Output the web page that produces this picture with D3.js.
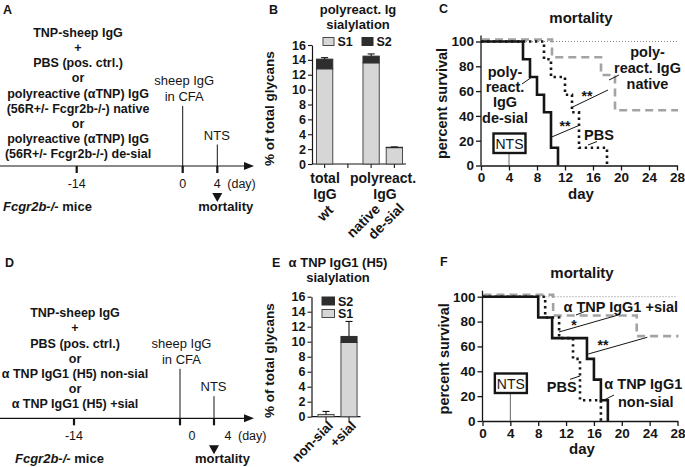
<!DOCTYPE html>
<html><head><meta charset="utf-8">
<script src="https://cdn.jsdelivr.net/npm/d3@7"></script>
<style>
body{margin:0;background:#fff}
svg{display:block;font-family:"Liberation Sans",Arial,Helvetica,sans-serif}
</style></head><body>
<script>
// ---------------- data ----------------
const aProtocol = ["TNP-sheep IgG","+","PBS (pos. ctrl.)","or","polyreactive (αTNP) IgG","(56R+/- Fcgr2b-/-) native","or","polyreactive (αTNP) IgG","(56R+/- Fcgr2b-/-) de-sial"];
const dProtocol = ["TNP-sheep IgG","+","PBS (pos. ctrl.)","or","α TNP IgG1 (H5) non-sial","or","α TNP IgG1 (H5) +sial"];
const timelineDays = [-14, 0, 4];
const timelineLabels = ["-14","0","4"];
const eventInjection = ["sheep IgG","in CFA"];
const eventNTS = "NTS";

const bCategories = ["wt","native","de-sial"];
const bS1 = [12.8, 13.6, 2.2];
const bS2 = [1.3, 0.9, 0.05];
const bErr = [0.2, 0.3, 0.05];
const glycanTicks = [0,2,4,6,8,10,12,14,16];

const eCategories = ["non-sial","+sial"];
const eS1 = [0.3, 9.9];
const eS2 = [0, 0.8];
const eErr = [0.4, 2.0];

const survTicksY = [0,20,40,60,80,100];
const survTicksX = [0,4,8,12,16,20,24,28];
// [day, percent survival]
const cDesial = [[0,100],[6,85.7],[7,71.4],[8,57.1],[9,42.9],[10,14.3],[11,0]];
const cPBS    = [[0,100],[9,85.7],[10,71.4],[12,57.1],[13,42.9],[14,14.3],[18,0]];
const cNative = [[0,100],[10,85.7],[17,71.4],[19,42.9],[28,42.9]];
const fNonsial = [[0,100],[8,83.3],[10,66.7],[15,50],[16,33.3],[17,16.7],[18,0]];
const fPBS     = [[0,100],[9,83.3],[11,66.7],[13,50],[14,16.7],[17,0]];
const fSial    = [[0,100],[10,83.3],[22,66.7],[28,66.7]];

// ---------------- helpers ----------------
const svg = d3.select("body").append("svg").attr("width",685).attr("height",467);
const INK = "#151515";
function T(g,x,y,s,o={}){
  return g.append("text").attr("x",x).attr("y",y).text(s)
    .attr("font-size",o.size||13).attr("font-weight",o.weight||"bold")
    .attr("text-anchor",o.anchor||"middle").attr("fill",o.fill||INK)
    .attr("font-style",o.style||"normal");
}
function L(g,x1,y1,x2,y2,w=1,c=INK){
  return g.append("line").attr("x1",x1).attr("y1",y1).attr("x2",x2).attr("y2",y2)
    .attr("stroke",c).attr("stroke-width",w);
}

// ---------------- timeline panels (A, D) ----------------
function timeline(cfg){
  const g = svg.append("g");
  T(g,cfg.letterX,cfg.letterY,cfg.letter,{size:12.5,anchor:"start"});
  cfg.lines.forEach((s,i)=>T(g,cfg.textX,cfg.textY+i*cfg.step,s,{size:12.5}));
  const x = d3.scaleLinear().domain(timelineDays).range(cfg.tickPx);
  const xl = d3.scaleLinear().domain(timelineDays).range(cfg.labelPx);
  L(g,0,cfg.axisY,cfg.arrowX-8,cfg.axisY,1.2);
  g.append("path").attr("d",`M${cfg.arrowX-10},${cfg.axisY-4}L${cfg.arrowX},${cfg.axisY}L${cfg.arrowX-10},${cfg.axisY+4}Z`).attr("fill",INK);
  timelineDays.forEach((d,i)=>{
    L(g,x(d),cfg.axisY,x(d),cfg.axisY+7,2.2);
    T(g,xl(d),cfg.axisY+22,timelineLabels[i],{size:12.5,weight:"normal"});
  });
  T(g,xl(4)+10,cfg.axisY+22,"(day)",{size:12.5,weight:"normal",anchor:"start"});
  // events
  eventInjection.forEach((s,i)=>T(g,x(0)+1.5,cfg.injY+i*16,s,{size:13,weight:"normal"}));
  L(g,x(0),cfg.injY+21,x(0),cfg.axisY,1);
  T(g,x(4)-0.5,cfg.ntsY,eventNTS,{size:13,weight:"normal"});
  L(g,x(4),cfg.ntsY+5,x(4),cfg.axisY,1);
  const ay = cfg.axisY+27;
  g.append("path").attr("d",`M${x(4)-5},${ay}L${x(4)+5},${ay}L${x(4)},${ay+9}Z`).attr("fill",INK);
  T(g,x(4)-19,cfg.axisY+45,"mortality",{size:13,anchor:"start"});
  const m = T(g,cfg.miceX,cfg.axisY+45,"",{size:13,anchor:"start"});
  m.append("tspan").attr("font-style","italic").text("Fcgr2b-/-");
  m.append("tspan").text(" mice");
}
timeline({letter:"A",letterX:3,letterY:13.5,lines:aProtocol,textX:78,textY:36.8,step:15.2,
  axisY:166,arrowX:254,tickPx:[76.7,182.7,217.3],labelPx:[76.7,182.7,217.3],injY:85,ntsY:139.5,miceX:3});
timeline({letter:"D",letterX:5,letterY:266.5,lines:dProtocol,textX:75,textY:317.3,step:15.1,
  axisY:418.3,arrowX:254,tickPx:[74,180,214],labelPx:[74,192,228],injY:347.8,ntsY:391.2,miceX:15});

// ---------------- bar panels (B, E) ----------------
function barPanel(cfg){
  const g = svg.append("g");
  T(g,cfg.letterX,cfg.letterY,cfg.letter,{size:12.5,anchor:"start"});
  cfg.title.forEach((s,i)=>T(g,cfg.titleX,cfg.titleY+i*14.5,s,{size:13}));
  const y = d3.scaleLinear().domain([0,16]).range([cfg.y0,cfg.y1]);
  const x = d3.scaleBand().domain(cfg.slots).range(cfg.xRange).paddingInner(0.3).paddingOuter(0.15);
  const ya = g.append("g").attr("transform",`translate(${cfg.axisX},0)`)
    .call(d3.axisLeft(y).tickValues(glycanTicks).tickSize(4).tickSizeOuter(0).tickPadding(2));
  ya.select(".domain").attr("stroke",INK).attr("stroke-width",1.2);
  ya.selectAll(".tick line").attr("stroke",INK).attr("stroke-width",1.1);
  ya.selectAll(".tick text").attr("font-size",12.5).attr("font-weight","bold").attr("fill",INK).attr("font-family",null);
  L(g,cfg.axisX,cfg.y0,cfg.xRange[1],cfg.y0,1.2);
  cfg.slots.forEach(s=>L(g,x(s)+x.bandwidth()/2,cfg.y0,x(s)+x.bandwidth()/2,cfg.y0+4,1.1));
  g.append("text").attr("transform",`translate(${cfg.yTitleX},${(cfg.y0+cfg.y1)/2+cfg.yTitleDy}) rotate(-90)`)
    .attr("text-anchor","middle").attr("font-size",13.5).attr("font-weight","bold").attr("fill",INK).text("% of total glycans");
  cfg.cats.forEach((c,i)=>{
    const bx = x(c), bw = x.bandwidth(), cx = bx+bw/2;
    const top1 = cfg.s1[i], top2 = cfg.s1[i]+cfg.s2[i];
    g.append("rect").attr("x",bx).attr("width",bw).attr("y",y(top1)).attr("height",y(0)-y(top1))
      .attr("fill","#d6d6d6").attr("stroke","#4a4a4a").attr("stroke-width",1);
    if(cfg.s2[i]>0.02) g.append("rect").attr("x",bx).attr("width",bw).attr("y",y(top2)).attr("height",y(top1)-y(top2))
      .attr("fill","#2e2e2e").attr("stroke","#2e2e2e").attr("stroke-width",1);
    L(g,cx,y(top2),cx,y(top2+cfg.err[i]),1.1);
    L(g,cx-3.5,y(top2+cfg.err[i]),cx+3.5,y(top2+cfg.err[i]),1.1);
  });
  return {x,y,g};
}
const slotsB = [bCategories[0]," ",bCategories[1],bCategories[2]];
const B = barPanel({letter:"B",letterX:269,letterY:13.5,title:["polyreact. Ig","sialylation"],titleX:358,titleY:14,
  y0:164,y1:45,axisX:312,xRange:[313,406],slots:slotsB,cats:bCategories,s1:bS1,s2:bS2,err:bErr,yTitleX:274,yTitleDy:4});
// legend B
B.g.append("rect").attr("x",323).attr("y",37.5).attr("width",11).attr("height",8).attr("fill","#d6d6d6").attr("stroke","#4a4a4a");
T(B.g,337.5,46,"S1",{size:12.5,anchor:"start"});
B.g.append("rect").attr("x",362).attr("y",37.5).attr("width",11).attr("height",8).attr("fill","#2e2e2e").attr("stroke","#2e2e2e");
T(B.g,376.5,46,"S2",{size:12.5,anchor:"start"});
T(B.g,325,183,"total",{size:14});
T(B.g,325,198.5,"IgG",{size:14});
T(B.g,383,183,"polyreact.",{size:14});
T(B.g,385,198.5,"IgG",{size:14});
[["wt",334,211],["native",381,210],["de-sial",405,209]].forEach(([s,px,py])=>{
  B.g.append("text").attr("transform",`translate(${px},${py}) rotate(-45)`).attr("text-anchor","end")
    .attr("font-size",14).attr("font-weight","bold").attr("fill",INK).text(s);
});

const E = barPanel({letter:"E",letterX:272,letterY:266.5,title:["α TNP IgG1 (H5)","sialylation"],titleX:338,titleY:267,
  y0:416.7,y1:296.7,axisX:311.5,xRange:[314.5,360.5],slots:eCategories,cats:eCategories,s1:eS1,s2:eS2,err:eErr,yTitleX:274,yTitleDy:4});
E.g.append("rect").attr("x",322).attr("y",297).attr("width",12.5).attr("height",8).attr("fill","#2e2e2e").attr("stroke","#2e2e2e");
T(E.g,338,305.5,"S2",{size:12.5,anchor:"start"});
E.g.append("rect").attr("x",322).attr("y",309.5).attr("width",12.5).attr("height",8).attr("fill","#d6d6d6").attr("stroke","#4a4a4a");
T(E.g,338,318,"S1",{size:12.5,anchor:"start"});
eCategories.forEach(c=>{
  E.g.append("text").attr("transform",`translate(${E.x(c)+E.x.bandwidth()/2+8},${426.5}) rotate(-45)`).attr("text-anchor","end")
    .attr("font-size",13.5).attr("font-weight","bold").attr("fill",INK).text(c);
});

// ---------------- survival panels (C, F) ----------------
const styles = {
  solid:{stroke:INK,dash:null,off:[0,0]},
  dotted:{stroke:INK,dash:"2.4,3.6",off:[0,0]},
  dashed:{stroke:"#a3a3a3",dash:"8,5",off:[1,-2]}
};
function survival(cfg){
  const g = svg.append("g");
  T(g,cfg.letterX,cfg.letterY,cfg.letter,{size:12.5,anchor:"start"});
  const x = d3.scaleLinear().domain([0,28]).range([cfg.x0,cfg.x1]);
  const y = d3.scaleLinear().domain([0,100]).range([cfg.y0,cfg.y1]);
  T(g,(cfg.x0+cfg.x1)/2+2,cfg.y1-19,"mortality",{size:15});
  L(g,x(0),y(100),x(28),y(100),0.9,"#777").attr("stroke-dasharray","1,2");
  const xa = g.append("g").attr("transform",`translate(0,${cfg.y0})`)
    .call(d3.axisBottom(x).tickValues(survTicksX).tickSize(5).tickSizeOuter(0).tickPadding(2));
  const ya = g.append("g").attr("transform",`translate(${cfg.x0},0)`)
    .call(d3.axisLeft(y).tickValues(survTicksY).tickSize(5).tickSizeOuter(0).tickPadding(2));
  [xa,ya].forEach(a=>{
    a.select(".domain").attr("stroke",INK).attr("stroke-width",1.3);
    a.selectAll(".tick line").attr("stroke",INK).attr("stroke-width",1.3);
    a.selectAll(".tick text").attr("font-size",13.5).attr("font-weight","bold").attr("fill",INK).attr("font-family",null);
  });
  ya.select(".domain").attr("d",`M0,${cfg.y0}V${cfg.y1-6}`);
  T(g,(cfg.x0+cfg.x1)/2+2,cfg.y0+33,"day",{size:15});
  g.append("text").attr("transform",`translate(${cfg.x0-34},${(cfg.y0+cfg.y1)/2}) rotate(-90)`)
    .attr("text-anchor","middle").attr("font-size",14.5).attr("font-weight","bold").attr("fill",INK).text("percent survival");
  // NTS box
  const nx = x(4);
  L(g,nx,cfg.ntsY+20,nx,cfg.y0,1,"#666");
  g.append("rect").attr("x",nx-15.5).attr("y",cfg.ntsY).attr("width",32).attr("height",19.5)
    .attr("fill","#fff").attr("stroke",INK).attr("stroke-width",2.4);
  T(g,nx+0.5,cfg.ntsY+15,"NTS",{size:14,weight:"normal"});
  const line = d3.line().x(d=>x(d[0])).y(d=>y(d[1])).curve(d3.curveStepAfter);
  cfg.series.forEach(s=>{
    const st = styles[s.style];
    g.append("path").attr("d",line(s.data)).attr("fill","none").attr("stroke",st.stroke)
      .attr("stroke-width",2.6).attr("stroke-dasharray",st.dash)
      .attr("transform",`translate(${st.off[0]},${st.off[1]})`);
  });
  return g;
}
const C = survival({letter:"C",letterX:439,letterY:13,x0:481,x1:677,y0:165.5,y1:41.5,ntsY:133.5,
  series:[{data:cNative,style:"dashed"},{data:cPBS,style:"dotted"},{data:cDesial,style:"solid"}]});
["poly-","react.","IgG","de-sial"].forEach((s,i)=>T(C,505,76.5+i*15.4,s,{size:14.5}));
L(C,522,84,532,77);
["poly-","react. IgG","native"].forEach((s,i)=>T(C,647.5,57+i*16,s,{size:14.5}));
L(C,609,80,619,75);
T(C,587,101,"**",{size:14});
L(C,572.7,107,608,90);
T(C,565,130.5,"**",{size:14});
L(C,551.7,137,580,125);
T(C,599,140,"PBS",{size:14.5});
L(C,588,145,597,141.5);

const F = survival({letter:"F",letterX:440,letterY:266,x0:482.5,x1:677.5,y0:421,y1:296.7,ntsY:373.5,
  series:[{data:fSial,style:"dashed"},{data:fPBS,style:"dotted"},{data:fNonsial,style:"solid"}]});
T(F,620.8,311.5,"α TNP IgG1 +sial",{size:14.5});
L(F,576,315,586,311);
T(F,574,330,"*",{size:14});
L(F,559,332,620,314.5);
T(F,603,350,"**",{size:14});
L(F,588.3,354,647.3,337.3);
T(F,561.7,391.5,"PBS",{size:14.5});
L(F,570,379.3,580,376);
T(F,643.3,389,"α TNP IgG1",{size:14.5});
T(F,645.8,407,"non-sial",{size:14.5});
L(F,604,400,614,395);
</script>
</body></html>
